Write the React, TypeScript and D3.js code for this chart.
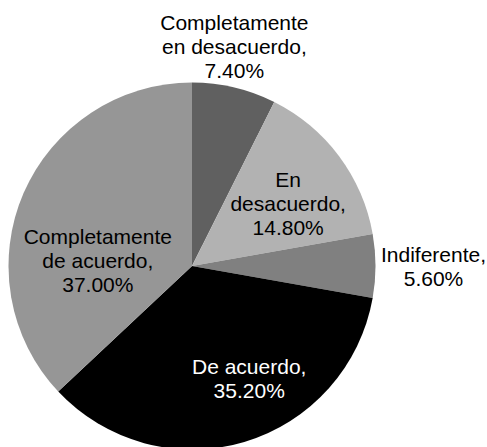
import React from "react";
import * as d3 from "d3";

const categories = [
  "Completamente en desacuerdo",
  "En desacuerdo",
  "Indiferente",
  "De acuerdo",
  "Completamente de acuerdo",
];
const values = [7.4, 14.8, 5.6, 35.2, 37.0];
const labelLines = [
  ["Completamente", "en desacuerdo,", "7.40%"],
  ["En", "desacuerdo,", "14.80%"],
  ["Indiferente,", "5.60%"],
  ["De acuerdo,", "35.20%"],
  ["Completamente", "de acuerdo,", "37.00%"],
];
const sliceColors = ["#606060", "#b2b2b2", "#808080", "#000000", "#969696"];
const textColors = ["#000", "#000", "#000", "#fff", "#000"];

// label radius and small nudge per slice (mimics excel's best fit placement)
const labelRadius = [223, 115, 241.5, 127, 95];
const labelNudge = [
  [-9, -2.5],
  [4, 6],
  [0, 0.3],
  [21, -9],
  [-7, 32],
];

const width = 487;
const height = 447;
const cx = 192;
const cy = 266;
const radius = 183.5;
const fontSize = 21;
const lineHeight = 24;

export default function App() {
  const data = categories.map((c, i) => ({ name: c, value: values[i], i }));
  const pie = d3.pie<any>().sort(null).value((d) => d.value);
  const arcs = pie(data);
  const arc = d3.arc<any>().innerRadius(0).outerRadius(radius);

  return (
    <svg
      width={width}
      height={height}
      style={{ position: "absolute", left: 0, top: 0 }}
      fontFamily="'Liberation Sans', Arial, sans-serif"
    >
      <rect width={width} height={height} fill="#fff" />
      <g transform={`translate(${cx},${cy})`}>
        {arcs.map((a) => (
          <path key={a.data.name} d={arc(a) || ""} fill={sliceColors[a.data.i]} />
        ))}
        {arcs.map((a) => {
          const i = a.data.i;
          const la = d3.arc<any>().innerRadius(labelRadius[i]).outerRadius(labelRadius[i]);
          const [x0, y0] = la.centroid(a);
          const x = x0 + labelNudge[i][0];
          const y = y0 + labelNudge[i][1];
          const lines = labelLines[i];
          const n = lines.length;
          return (
            <text
              key={"l" + i}
              textAnchor="middle"
              fontSize={fontSize}
              fill={textColors[i]}
            >
              {lines.map((t, k) => (
                <tspan key={k} x={x} y={y + (k - (n - 1) / 2) * lineHeight + 7.5}>
                  {t}
                </tspan>
              ))}
            </text>
          );
        })}
      </g>
    </svg>
  );
}
